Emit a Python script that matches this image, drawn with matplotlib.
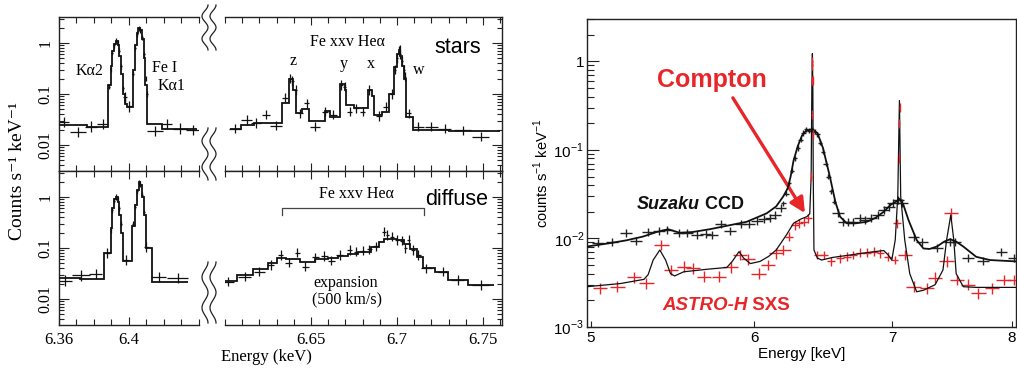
import numpy as np
import matplotlib
matplotlib.use('Agg')
import matplotlib.pyplot as plt
from matplotlib.lines import Line2D
from matplotlib.ticker import LogLocator, NullLocator, FixedLocator, NullFormatter, MultipleLocator

plt.rcParams['mathtext.fontset'] = 'custom'
plt.rcParams['mathtext.rm'] = 'Liberation Sans'

# ---------------- LEFT FIGURE DATA (Fe K lines, stars / diffuse) ----------------
# model step histograms: bin edges (keV) and values (counts/s/keV)
starsA_edges = [6.360, 6.376, 6.3882, 6.3895, 6.3905, 6.3915, 6.3925, 6.3935, 6.3945, 6.3955,
                6.3965, 6.3975, 6.3990, 6.4023, 6.4033, 6.4043, 6.4053, 6.4063, 6.4073, 6.4083,
                6.4093, 6.4103, 6.4190, 6.4390]
starsA_model = [0.025, 0.023, 0.15, 0.35, 0.7, 0.95, 1.1, 0.9, 0.55, 0.25, 0.1, 0.065, 0.055,
                0.3, 0.9, 1.6, 2.0, 1.8, 1.2, 0.5, 0.15, 0.026, 0.021]
diffA_edges = [6.360, 6.372, 6.3857, 6.3895, 6.3905, 6.3915, 6.3925, 6.3935, 6.3945, 6.3955,
               6.3967, 6.4015, 6.4035, 6.4045, 6.4055, 6.4065, 6.4075, 6.4085, 6.4095, 6.4130, 6.4337]
diffA_model = [0.026, 0.025, 0.08, 0.25, 0.6, 0.9, 1.0, 0.8, 0.45, 0.2, 0.055, 0.27, 0.7, 1.4,
               2.0, 1.7, 1.0, 0.45, 0.1, 0.022]
starsB_edges = [6.6030, 6.6095, 6.6170, 6.6330, 6.6370, 6.6395, 6.6410, 6.6450, 6.6486, 6.6580,
                6.6610, 6.6667, 6.6695, 6.6705, 6.6752, 6.6830, 6.6857, 6.6867, 6.6914, 6.6952,
                6.6980, 6.7000, 6.7010, 6.7020, 6.7030, 6.7042, 6.7053, 6.7095, 6.7300, 6.7600]
starsB_model = [0.021, 0.025, 0.027, 0.066, 0.2, 0.12, 0.042, 0.050, 0.029, 0.047, 0.036, 0.16,
                0.12, 0.06, 0.052, 0.12, 0.09, 0.039, 0.045, 0.10, 0.34, 0.6, 0.73, 0.55, 0.35,
                0.2, 0.036, 0.0195, 0.0185]
diffB_edges = [6.6000, 6.6067, 6.6162, 6.6248, 6.6305, 6.6352, 6.6438, 6.6524, 6.6600, 6.6657,
               6.6714, 6.6771, 6.6848, 6.6895, 6.6924, 6.7000, 6.7038, 6.7076, 6.7114, 6.7152,
               6.7219, 6.7295, 6.7410, 6.7562]
diffB_model = [0.023, 0.030, 0.038, 0.050, 0.063, 0.060, 0.054, 0.060, 0.063, 0.070, 0.078,
               0.085, 0.106, 0.13, 0.148, 0.145, 0.12, 0.095, 0.068, 0.040, 0.034, 0.024, 0.019]

# data points: energy, value, half bin width
starsA_E = [6.363, 6.371, 6.3785, 6.385, 6.3977, 6.4002, 6.415, 6.4215, 6.4291, 6.4367]
starsA_v = [0.028, 0.018, 0.023, 0.026, 0.087, 0.057, 0.019, 0.026, 0.021, 0.020]
starsA_w = [0.003, 0.0045, 0.0035, 0.003, 0.0012, 0.0015, 0.0045, 0.003, 0.004, 0.004]
starsA_fineE = [6.3885, 6.3895, 6.3905, 6.3915, 6.3925, 6.3935, 6.3945, 6.3955, 6.3965, 6.3975,
                6.4025, 6.4035, 6.4045, 6.4055, 6.4065, 6.4075, 6.4085, 6.4095, 6.4103]
starsA_finev = [0.14, 0.3, 0.65, 0.9, 1.1, 1.0, 0.7, 0.35, 0.13, 0.075,
                0.25, 0.8, 1.5, 1.9, 1.8, 1.3, 0.6, 0.2, 0.1]
diffA_E = [6.3637, 6.3726, 6.381, 6.3877, 6.3983, 6.4100, 6.417, 6.428]
diffA_v = [0.023, 0.029, 0.031, 0.08, 0.058, 0.105, 0.027, 0.026]
diffA_w = [0.0037, 0.005, 0.0037, 0.0015, 0.0015, 0.0015, 0.0043, 0.006]
diffA_fineE = [6.3895, 6.3905, 6.3915, 6.3925, 6.3935, 6.3945, 6.3955,
               6.4025, 6.4035, 6.4045, 6.4055, 6.4065, 6.4075, 6.4085]
diffA_finev = [0.22, 0.55, 0.85, 1.0, 0.9, 0.6, 0.3,
               0.3, 0.65, 1.3, 1.9, 1.8, 1.1, 0.5]
starsB_E = [6.606, 6.6125, 6.618, 6.6238, 6.6299, 6.6349, 6.638, 6.6392, 6.641, 6.6438, 6.6476,
            6.6524, 6.6581, 6.6629, 6.6676, 6.6695, 6.6724, 6.6762, 6.680, 6.6838, 6.6895,
            6.6933, 6.6971, 6.699, 6.700, 6.701, 6.7015, 6.702, 6.703, 6.704, 6.7048,
            6.7067, 6.7124, 6.720, 6.7276, 6.7381, 6.7486]
starsB_v = [0.021, 0.031, 0.027, 0.039, 0.024, 0.085, 0.2, 0.18, 0.12, 0.042, 0.066,
            0.023, 0.045, 0.039, 0.15, 0.14, 0.045, 0.052, 0.045, 0.12, 0.037,
            0.056, 0.10, 0.3, 0.5, 0.7, 0.75, 0.6, 0.45, 0.3, 0.22,
            0.042, 0.023, 0.023, 0.021, 0.0196, 0.0145]
starsB_w = [0.0035, 0.003, 0.003, 0.0025, 0.0035, 0.0015, 0.0008, 0.0008, 0.0008, 0.0015, 0.0015,
            0.003, 0.002, 0.002, 0.001, 0.001, 0.0015, 0.0015, 0.0015, 0.0012, 0.0015,
            0.0015, 0.001, 0.0005, 0.0005, 0.0005, 0.0005, 0.0005, 0.0005, 0.0005, 0.0005,
            0.0015, 0.003, 0.004, 0.004, 0.005, 0.005]
diffB_E = [6.602, 6.6114, 6.620, 6.6267, 6.6324, 6.6371, 6.6419, 6.6467, 6.6524, 6.6577, 6.6619,
           6.6667, 6.6724, 6.6762, 6.680, 6.6838, 6.6876, 6.6924, 6.6943, 6.6971, 6.700, 6.7029,
           6.7048, 6.7067, 6.7095, 6.7124, 6.7171, 6.7267, 6.7352, 6.7486]
diffB_v = [0.0219, 0.0273, 0.0343, 0.0464, 0.073, 0.0515, 0.081, 0.0428, 0.066, 0.0697, 0.0564,
           0.073, 0.0913, 0.085, 0.089, 0.094, 0.109, 0.209, 0.18, 0.167, 0.143, 0.139,
           0.098, 0.143, 0.091, 0.073, 0.040, 0.034, 0.0236, 0.0188]
diffB_w = [0.003, 0.004, 0.003, 0.002, 0.0015, 0.002, 0.0015, 0.002, 0.002, 0.002, 0.002,
           0.002, 0.0015, 0.0015, 0.0015, 0.0015, 0.0015, 0.001, 0.001, 0.001, 0.001, 0.001,
           0.001, 0.001, 0.0012, 0.0015, 0.003, 0.003, 0.004, 0.005]

# ---------------- RIGHT FIGURE DATA (Suzaku CCD vs ASTRO-H SXS) ----------------
suz_model_E = [4.978, 5.10, 5.20, 5.30, 5.38, 5.45, 5.52, 5.60, 5.71, 5.83, 5.95, 6.085, 6.15,
               6.20, 6.23, 6.25, 6.27, 6.30, 6.33, 6.36, 6.40, 6.44, 6.48, 6.53, 6.57, 6.605,
               6.655, 6.72, 6.805, 6.87, 6.935, 6.99, 7.04, 7.06, 7.09, 7.13, 7.195, 7.25, 7.30,
               7.36, 7.42, 7.47, 7.52, 7.58, 7.69, 7.81, 8.04]
suz_model_v = [0.0081, 0.0088, 0.0095, 0.0105, 0.0118, 0.0127, 0.0116, 0.0118, 0.0127, 0.014,
               0.0154, 0.0192, 0.023, 0.030, 0.037, 0.05, 0.075, 0.11, 0.145, 0.165, 0.17, 0.155,
               0.105, 0.05, 0.026, 0.0176, 0.0148, 0.0148, 0.0154, 0.017, 0.020, 0.024, 0.0265,
               0.028, 0.0238, 0.0161, 0.0096, 0.0077, 0.0076, 0.0081, 0.0092, 0.0098, 0.0092,
               0.0081, 0.0062, 0.0057, 0.0055]
sxs_model_E = [4.978, 5.17, 5.305, 5.33, 5.36, 5.40, 5.435, 5.465, 5.49, 5.546, 5.70, 5.82, 5.855,
               5.90, 5.93, 5.975, 6.04, 6.10, 6.15, 6.22, 6.27, 6.32, 6.364, 6.385, 6.395, 6.400,
               6.404, 6.407, 6.410, 6.415, 6.44, 6.47, 6.55, 6.68, 6.80, 6.935, 6.97, 6.998,
               7.025, 7.045, 7.058, 7.068, 7.10, 7.14, 7.195, 7.25, 7.345, 7.41, 7.44, 7.475,
               7.50, 7.52, 7.58, 7.69, 8.04]
sxs_model_v = [0.00285, 0.0031, 0.00345, 0.0039, 0.0057, 0.0074, 0.0057, 0.0040, 0.00377, 0.0042,
               0.0045, 0.0047, 0.0055, 0.0071, 0.0060, 0.0052, 0.0055, 0.0063, 0.0074, 0.0109,
               0.0148, 0.0165, 0.0176, 0.019, 0.05, 0.5, 1.22, 0.5, 0.05, 0.0074, 0.0060, 0.0057,
               0.0061, 0.0065, 0.0069, 0.0073, 0.0065, 0.0057, 0.0096, 0.03, 0.36, 0.03, 0.0096,
               0.0040, 0.0025, 0.0026, 0.0030, 0.0044, 0.0096, 0.0184, 0.0096, 0.0040, 0.00285,
               0.0028, 0.0028]

suz_E = [5.04, 5.12, 5.20, 5.26, 5.33, 5.395, 5.445, 5.515, 5.567, 5.63, 5.683, 5.725, 5.78,
         5.84, 5.91, 5.965, 6.02, 6.065, 6.11, 6.14, 6.18, 6.59, 6.63, 6.665, 6.70, 6.755,
         6.79, 6.84, 6.89, 6.935, 6.975, 7.01, 7.05, 7.08, 7.17, 7.24, 7.36, 7.47, 7.51, 7.62,
         7.75, 7.91, 8.02]
suz_v = [0.0088, 0.0092, 0.0116, 0.0094, 0.0119, 0.0122, 0.0124, 0.0114, 0.0114, 0.011, 0.0112,
         0.011, 0.0144, 0.0122, 0.0144, 0.0144, 0.0158, 0.0166, 0.0168, 0.0186, 0.0218, 0.0192,
         0.0154, 0.0154, 0.0154, 0.0168, 0.016, 0.0168, 0.0184, 0.021, 0.0228, 0.0249, 0.027,
         0.0249, 0.0104, 0.0092, 0.0078, 0.0092, 0.0092, 0.006, 0.0055, 0.0071, 0.006]
suz_peakE = [6.20, 6.22, 6.24, 6.26, 6.28, 6.30, 6.32, 6.34, 6.36, 6.38, 6.40, 6.42, 6.44, 6.46,
             6.48, 6.50, 6.52, 6.54, 6.56]
suz_peakv = [0.0249, 0.032, 0.042, 0.058, 0.08, 0.105, 0.13, 0.155, 0.17, 0.165, 0.17, 0.16,
             0.15, 0.12, 0.095, 0.07, 0.05, 0.034, 0.026]

sxs_E = [5.05, 5.15, 5.245, 5.32, 5.41, 5.47, 5.546, 5.605, 5.672, 5.77, 5.845, 5.905, 5.96,
         6.03, 6.093, 6.15, 6.20, 7.10, 7.17, 7.28, 7.345, 7.44, 7.475, 7.53, 7.62, 7.71, 7.83,
         7.93, 8.02]
sxs_v = [0.00274, 0.00285, 0.00364, 0.0031, 0.0084, 0.0044, 0.0048, 0.0046, 0.0037, 0.0037,
         0.0047, 0.0065, 0.0058, 0.0040, 0.005, 0.0068, 0.0074, 0.0065, 0.00285, 0.00274,
         0.0036, 0.0055, 0.0192, 0.0034, 0.003, 0.0024, 0.00274, 0.0034, 0.0034]
sxs_midE = [6.24, 6.28, 6.31, 6.345, 6.375, 6.44, 6.487, 6.54, 6.605, 6.655, 6.70, 6.755, 6.805,
            6.86, 6.91, 6.97, 7.02, 7.04]
sxs_midv = [0.0104, 0.0141, 0.0148, 0.0154, 0.0168, 0.0065, 0.0065, 0.0055, 0.006, 0.0062,
            0.0065, 0.0069, 0.0069, 0.0071, 0.0068, 0.0062, 0.0057, 0.0148]
sxs_lineE = [6.395, 6.398, 6.400, 6.402, 6.404, 6.406, 6.408, 7.055, 7.058, 7.060]
sxs_linev = [0.05, 0.25, 0.6, 0.9, 1.0, 0.6, 0.15, 0.08, 0.2, 0.3]

# ---------------- FIGURE ----------------
W, H = 1017, 369
fig = plt.figure(figsize=(W / 100, H / 100), dpi=100)
SERIF = ['Liberation Serif', 'DejaVu Serif']
SANS = ['Liberation Sans', 'DejaVu Sans']
RED = '#E8262A'


def ax_px(x0, y0, x1, y1):
    return fig.add_axes([x0 / W, 1 - y1 / H, (x1 - x0) / W, (y1 - y0) / H])


def ftext(x, y, s, **kw):
    return fig.text(x / W, 1 - y / H, s, **kw)


def yerr_dex(v, d):
    v = np.asarray(v, float)
    return np.vstack([v - v * 10 ** (-d), v * 10 ** d - v])


aTA = ax_px(59, 17, 199, 171)
aBA = ax_px(59, 171, 199, 325)
aTB = ax_px(225, 17, 502, 171)
aBB = ax_px(225, 171, 502, 325)


def style_left(ax, xlim, majors, side, bottom_labels):
    ax.set_yscale('log')
    ax.set_ylim(10 ** -2.51, 10 ** 0.51)
    ax.set_xlim(*xlim)
    ax.xaxis.set_major_locator(FixedLocator(majors))
    ax.xaxis.set_minor_locator(MultipleLocator(0.01))
    ax.yaxis.set_major_locator(FixedLocator([0.01, 0.1, 1]))
    ax.yaxis.set_minor_locator(LogLocator(base=10, subs=np.arange(2, 10)))
    ax.yaxis.set_minor_formatter(NullFormatter())
    ax.tick_params(which='both', direction='in', top=True, bottom=True, width=0.8, color='#222')
    ax.tick_params(axis='x', which='major', length=6)
    ax.tick_params(axis='x', which='minor', length=4)
    ax.tick_params(axis='y', which='major', length=7)
    ax.tick_params(axis='y', which='minor', length=3.5)
    for s in ax.spines.values():
        s.set_linewidth(1.0)
        s.set_color('#222')
    if side == 'left':
        ax.spines['right'].set_visible(False)
        ax.tick_params(axis='y', which='both', left=True, right=False)
        ax.set_yticklabels(['0.01', '0.1', '1'], rotation=90, va='center',
                           family=SERIF, fontsize=11.5)
        ax.tick_params(axis='y', pad=4)
    else:
        ax.spines['left'].set_visible(False)
        ax.tick_params(axis='y', which='both', left=False, right=True, labelleft=False)
    if bottom_labels:
        ax.set_xticklabels(bottom_labels, family=SERIF, fontsize=12)
        ax.tick_params(axis='x', pad=5)
    else:
        ax.tick_params(axis='x', labelbottom=False)


style_left(aTA, (6.36, 6.44), [6.36, 6.40], 'left', None)
style_left(aBA, (6.36, 6.44), [6.36, 6.40], 'left', ['6.36', '6.4'])
style_left(aTB, (6.60, 6.761), [6.65, 6.70, 6.75], 'right', None)
style_left(aBB, (6.60, 6.761), [6.65, 6.70, 6.75], 'right', ['6.65', '6.7', '6.75'])

for ax, ed, mv in [(aTA, starsA_edges, starsA_model), (aBA, diffA_edges, diffA_model),
                   (aTB, starsB_edges, starsB_model), (aBB, diffB_edges, diffB_model)]:
    ax.stairs(mv, ed, baseline=None, color='#111', lw=1.3, zorder=3)

for ax, E, v, w, d in [(aTA, starsA_E, starsA_v, starsA_w, 0.1),
                       (aBA, diffA_E, diffA_v, diffA_w, 0.1),
                       (aTB, starsB_E, starsB_v, starsB_w, 0.09),
                       (aBB, diffB_E, diffB_v, diffB_w, 0.09)]:
    ax.errorbar(E, v, xerr=w, yerr=yerr_dex(v, d), fmt='none', ecolor='#111', elinewidth=0.9,
                capsize=0, zorder=2)
for ax, E, v in [(aTA, starsA_fineE, starsA_finev), (aBA, diffA_fineE, diffA_finev)]:
    ax.errorbar(E, v, xerr=0.0005, yerr=yerr_dex(v, 0.05), fmt='none', ecolor='#111',
                elinewidth=0.9, capsize=0, zorder=2)

# break marks
for (y0, y1) in [(5, 50), (128, 180), (262, 323)]:
    t = np.linspace(0, 1, 80)
    for x0 in (205, 213):
        xs = x0 + 3.0 * np.cos(4 * np.pi * t)
        ys = y0 + (y1 - y0) * t
        fig.add_artist(Line2D(xs / W, 1 - ys / H, color='#222', lw=0.9))

# annotations left
ftext(18, 171, 'Counts s⁻¹ keV⁻¹', rotation=90, ha='center', va='center', family=SERIF, fontsize=14)
ftext(266, 357, 'Energy (keV)', ha='center', va='center', family=SERIF, fontsize=12)
ftext(90, 71, 'Kα2', ha='center', va='center', family=SERIF, fontsize=11.5)
ftext(152, 68, 'Fe I', ha='left', va='center', family=SERIF, fontsize=11.5)
ftext(172, 86, 'Kα1', ha='center', va='center', family=SERIF, fontsize=11.5)
ftext(347, 42, 'Fe xxv Heα', ha='center', va='center', family=SERIF, fontsize=11.5)
ftext(292.7, 65, 'z', ha='center', va='baseline', family=SERIF, fontsize=11.5)
ftext(344, 68, 'y', ha='center', va='baseline', family=SERIF, fontsize=11.5)
ftext(371, 68, 'x', ha='center', va='baseline', family=SERIF, fontsize=11.5)
ftext(419, 74, 'w', ha='center', va='baseline', family=SERIF, fontsize=11.5)
ftext(481, 53, 'stars', ha='right', va='baseline', family=SANS, fontsize=15.5)
ftext(488, 205, 'diffuse', ha='right', va='baseline', family=SANS, fontsize=15.5)
ftext(356, 194, 'Fe xxv Heα', ha='center', va='center', family=SERIF, fontsize=11.5)
bx = np.array([281.7, 281.7, 424, 424])
by = np.array([215, 208.3, 208.3, 215])
fig.add_artist(Line2D(bx / W, 1 - by / H, color='#444', lw=0.9))
ftext(346, 283, 'expansion', ha='center', va='center', family=SERIF, fontsize=11.5)
ftext(346.5, 299, '(500 km/s)', ha='center', va='center', family=SERIF, fontsize=11.5)

# ---------------- RIGHT PANEL ----------------
aR = ax_px(587, 19, 1016, 327)
aR.set_xscale('log')
aR.set_yscale('log')
aR.set_xlim(4.978, 8.04)
aR.set_ylim(1e-3, 3.0)
aR.xaxis.set_major_locator(FixedLocator([5, 6, 7, 8]))
aR.xaxis.set_minor_locator(NullLocator())
aR.set_xticklabels(['5', '6', '7', '8'], family=SANS, fontsize=11)
aR.yaxis.set_major_locator(FixedLocator([1e-3, 1e-2, 1e-1, 1]))
aR.yaxis.set_minor_locator(LogLocator(base=10, subs=np.arange(2, 10)))
aR.yaxis.set_minor_formatter(NullFormatter())
aR.set_yticklabels([r'$10^{-3}$', r'$10^{-2}$', r'$10^{-1}$', '1'], family=SANS, fontsize=11)
aR.tick_params(which='both', direction='in', width=0.8, color='#222', top=False, right=False)
aR.tick_params(axis='x', which='major', length=4, pad=3)
aR.tick_params(axis='y', which='major', length=8.5, pad=2)
aR.tick_params(axis='y', which='minor', length=4.8)
for s in aR.spines.values():
    s.set_linewidth(1.0)
    s.set_color('#222')

aR.plot(suz_model_E, suz_model_v, color='#111', lw=1.3, zorder=4)
aR.plot(sxs_model_E, sxs_model_v, color='#111', lw=0.9, zorder=4)

def xw(E, f):
    E = np.asarray(E, float)
    return E * f

aR.errorbar(suz_E, suz_v, xerr=xw(suz_E, 0.0065), yerr=yerr_dex(suz_v, 0.045), fmt='none',
            ecolor='#222', elinewidth=1.0, capsize=0, zorder=3)
aR.errorbar(suz_peakE, suz_peakv, xerr=xw(suz_peakE, 0.0025), yerr=yerr_dex(suz_peakv, 0.03),
            fmt='none', ecolor='#222', elinewidth=1.0, capsize=0, zorder=3)
aR.errorbar(sxs_E, sxs_v, xerr=xw(sxs_E, 0.008), yerr=yerr_dex(sxs_v, 0.06), fmt='none',
            ecolor=RED, elinewidth=1.0, capsize=0, zorder=3)
aR.errorbar(sxs_midE, sxs_midv, xerr=xw(sxs_midE, 0.0042), yerr=yerr_dex(sxs_midv, 0.05),
            fmt='none', ecolor=RED, elinewidth=1.0, capsize=0, zorder=3)
aR.errorbar(sxs_lineE, sxs_linev, xerr=xw(sxs_lineE, 0.0006), yerr=yerr_dex(sxs_linev, 0.05),
            fmt='none', ecolor=RED, elinewidth=1.0, capsize=0, zorder=5)

aR.set_xlabel('Energy [keV]', family=SANS, fontsize=11, labelpad=1)
ftext(541, 173, r'counts s$^{-1}$ keV$^{-1}$', rotation=90, ha='center', va='center',
      family=SANS, fontsize=10.5)

aR.text(0.291, 0.802, 'Compton', transform=aR.transAxes, ha='center', va='center',
        family=SANS, fontsize=18, fontweight='bold', color=RED)
aR.annotate('', xy=(0.508, 0.370), xytext=(0.340, 0.744), xycoords='axes fraction',
            textcoords='axes fraction',
            arrowprops=dict(arrowstyle='-|>,head_length=0.9,head_width=0.45', color=RED,
                            lw=2.4, shrinkA=0, shrinkB=0))

t1 = aR.text(0.1166, 0.399, 'Suzaku', transform=aR.transAxes, ha='left', va='center',
             family=SANS, fontsize=13, fontweight='bold', style='italic', color='#111')
aR.annotate(' CCD', xy=(1, 0.5), xycoords=t1, ha='left', va='center',
            family=SANS, fontsize=13, fontweight='bold', color='#111')
t2 = aR.text(0.175, 0.0714, 'ASTRO-H', transform=aR.transAxes, ha='left', va='center',
             family=SANS, fontsize=13.5, fontweight='bold', style='italic', color=RED)
aR.annotate(' SXS', xy=(1, 0.5), xycoords=t2, ha='left', va='center',
            family=SANS, fontsize=13.5, fontweight='bold', color=RED)

fig.savefig('out.png', dpi=100)
